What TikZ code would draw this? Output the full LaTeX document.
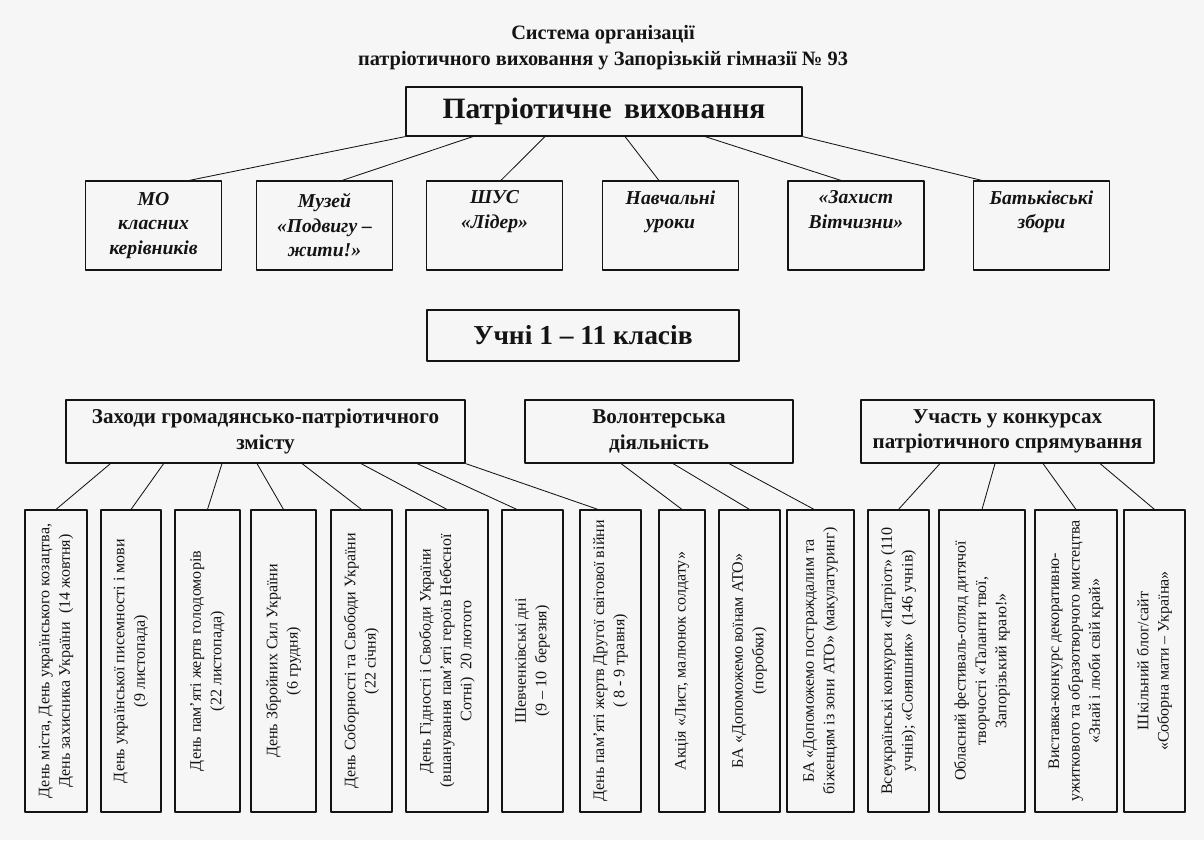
\documentclass[tikz,border=0pt]{standalone}
\usepackage{fontspec}
\setmainfont{Liberation Serif}
\usepackage{tikz}
\definecolor{pvPaper}{HTML}{F6F6F6}
\definecolor{pvInk}{HTML}{141414}
\tikzset{
  pv diagram/.style={text=pvInk, line cap=round, line join=round},
  pv box/.style={draw=pvInk, fill=pvPaper, line width=0.8pt,
    align=center, inner sep=3pt},
  pv title/.style={font=\bfseries\fontsize{14.5}{18.5}\selectfont, align=center},
  pv head/.style={pv box, font=\bfseries\fontsize{21}{25}\selectfont},
  pv unit/.style={pv box, minimum width=3.4cm, minimum height=2.225cm,
    font=\bfseries\itshape\fontsize{14}{17.4}\selectfont},
  pv group/.style={pv box, minimum height=1.575cm,
    font=\bfseries\fontsize{15}{18}\selectfont},
  pv event/.style={pv box, rotate=90, minimum width=7.55cm,
    font=\fontsize{11.4}{14.5}\selectfont},
  pv link/.style={draw=pvInk, line width=0.6pt}
}

\begin{document}
\begin{tikzpicture}[pv diagram]
\fill[pvPaper] (0,0) rectangle (30.1,21);
\node[pv title] (title) at (15.075,19.8) {Система організації\\патріотичного виховання у Запорізькій гімназії № 93};
\node[pv head, minimum width=9.9cm, minimum height=1.225cm] (top) at (15.1,18.2125) {Патріотичне\, виховання};
% units of the school
\node[pv unit] (mo) at (3.8375,15.3625) {МО\\класних\\керівників};
\node[pv unit] (museum) at (8.1125,15.3625) {Музей\\«Подвигу –\\жити!»};
\node[pv unit] (shus) at (12.3625,15.3625) {ШУС\\«Лідер»\\\strut};
\node[pv unit] (lessons) at (16.7625,15.3625) {Навчальні\\уроки\\\strut};
\node[pv unit] (defence) at (21.4,15.3625) {«Захист\\Вітчизни»\\\strut};
\node[pv unit] (parents) at (26.0375,15.3625) {Батьківські\\збори\\\strut};
\draw[pv link] (top.south west) -- ([xshift=0.89cm]mo.north);
\draw[pv link] ([xshift=-3.275cm]top.south) -- ([xshift=0.44cm]museum.north);
\draw[pv link] ([xshift=-1.475cm]top.south) -- ([xshift=0.16cm]shus.north);
\draw[pv link] ([xshift=0.525cm]top.south) -- ([xshift=-0.29cm]lessons.north);
\draw[pv link] ([xshift=2.525cm]top.south) -- ([xshift=-0.375cm]defence.north);
\draw[pv link] (top.south east) -- ([xshift=-1.49cm]parents.north);
\node[pv head, font=\bfseries\fontsize{19.5}{23}\selectfont, minimum width=7.8cm, minimum height=1.275cm] (pupils) at (14.575,12.6125) {Учні 1 – 11 класів};
% three directions
\node[pv group, minimum width=9.975cm] (civic) at (6.6375,10.2125) {Заходи громадянсько-патріотичного\\змісту};
\node[pv group, minimum width=6.7cm] (volunteer) at (16.475,10.2125) {Волонтерська\\діяльність};
\node[pv group, minimum width=7.325cm] (contest) at (25.1875,10.2125) {Участь у конкурсах\\патріотичного спрямування};
% events
\node[pv event, minimum height=1.55cm] (e1) at (1.4,4.475) {День міста, День українського козацтва,\\День захисника України~ (14 жовтня)};
\node[pv event, minimum height=1.5cm] (e2) at (3.275,4.475) {День української писемності і мови\\(9 листопада)};
\node[pv event, minimum height=1.625cm] (e3) at (5.1875,4.475) {День пам’яті жертв голодоморів\\(22 листопада)};
\node[pv event, minimum height=1.625cm] (e4) at (7.0875,4.475) {День Збройних Сил України\\(6 грудня)};
\node[pv event, minimum height=1.525cm] (e5) at (9.0375,4.475) {День Соборності та Свободи України\\(22 січня)};
\node[pv event, minimum height=2.05cm] (e6) at (11.175,4.475) {День Гідності і Свободи України\\(вшанування пам’яті героїв Небесної\\Сотні)~ 20 лютого};
\node[pv event, minimum height=1.525cm] (e7) at (13.3125,4.475) {Шевченківські дні\\(9 – 10~ березня)};
\node[pv event, minimum height=1.525cm] (e8) at (15.2625,4.475) {День пам’яті жертв Другої світової війни\\( 8 - 9 травня)};
\node[pv event, minimum height=1.15cm] (e9) at (17.05,4.475) {Акція «Лист, малюнок солдату»};
\node[pv event, minimum height=1.525cm] (e10) at (18.7375,4.475) {БА «Допоможемо воїнам АТО»\\(поробки)};
\node[pv event, minimum height=1.675cm] (e11) at (20.5125,4.475) {БА «Допоможемо постраждалим та\\біженцям із зони АТО» (макулатуринг)};
\node[pv event, minimum height=1.525cm] (e12) at (22.4625,4.475) {Всеукраїнські конкурси «Патріот» (110\\учнів); «Соняшник»~ (146 учнів)};
\node[pv event, minimum height=2.15cm] (e13) at (24.55,4.475) {Обласний фестиваль-огляд дитячої\\творчості «Таланти твої,\\Запорізький краю!»};
\node[pv event, minimum height=2.05cm] (e14) at (26.9,4.475) {Виставка-конкурс декоративно-\\ужиткового та образотворчого мистецтва\\«Знай і люби свій край»};
\node[pv event, minimum height=1.525cm] (e15) at (28.8625,4.475) {Шкільний блог/сайт\\«Соборна мати – Україна»};
\draw[pv link] ([xshift=-3.875cm]civic.south) -- (e1.east);
\draw[pv link] ([xshift=-2.545cm]civic.south) -- (e2.east);
\draw[pv link] ([xshift=-1.0875cm]civic.south) -- (e3.east);
\draw[pv link] ([xshift=-0.2125cm]civic.south) -- (e4.east);
\draw[pv link] ([xshift=0.9125cm]civic.south) -- (e5.east);
\draw[pv link] ([xshift=2.3875cm]civic.south) -- (e6.east);
\draw[pv link] ([xshift=3.7875cm]civic.south) -- ([xshift=-0.39cm]e7.east);
\draw[pv link] (civic.south east) -- ([xshift=-0.31cm]e8.east);
\draw[pv link] ([xshift=-0.95cm]volunteer.south) -- (e9.east);
\draw[pv link] ([xshift=0.35cm]volunteer.south) -- (e10.east);
\draw[pv link] ([xshift=1.75cm]volunteer.south) -- ([xshift=-0.16cm]e11.east);
\draw[pv link] ([xshift=-1.6875cm]contest.south) -- (e12.east);
\draw[pv link] ([xshift=-0.3125cm]contest.south) -- (e13.east);
\draw[pv link] ([xshift=0.8875cm]contest.south) -- (e14.east);
\draw[pv link] ([xshift=2.3125cm]contest.south) -- (e15.east);
\end{tikzpicture}
\end{document}
